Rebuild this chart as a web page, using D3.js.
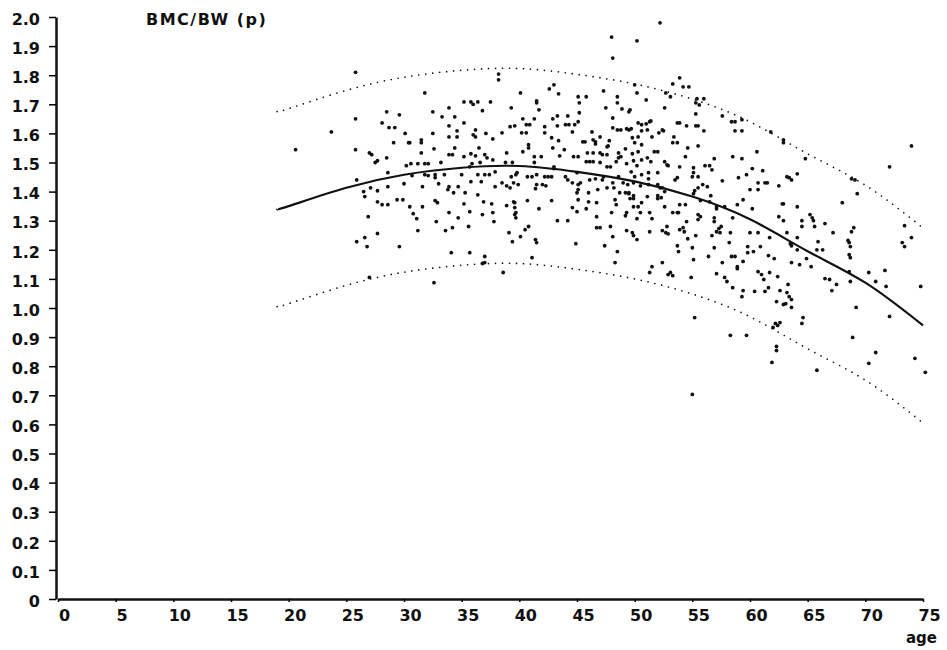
<!DOCTYPE html>
<html>
<head>
<meta charset="utf-8">
<script src="https://cdn.jsdelivr.net/npm/d3@7/dist/d3.min.js"></script>
<style>
  body { margin: 0; background: #fff; }
  svg { display: block; background: #fff; }
  .axis text { font-family: "DejaVu Sans", sans-serif; font-weight: bold; font-size: 16px; fill: #111; }
  .label { font-family: "DejaVu Sans", sans-serif; font-weight: bold; fill: #111; }
</style>
</head>
<body>
<div id="chart"></div>
<script>
// axis ticks
const xTicks = [0, 5, 10, 15, 20, 25, 30, 35, 40, 45, 50, 55, 60, 65, 70, 75];
const yTicks = [0, 0.1, 0.2, 0.3, 0.4, 0.5, 0.6, 0.7, 0.8, 0.9, 1.0, 1.1, 1.2, 1.3, 1.4, 1.5, 1.6, 1.7, 1.8, 1.9, 2.0];

// regression curve and its band
const curveAges = [19, 20, 25, 30, 35, 40, 45, 50, 55, 60, 65, 70, 75];
const fitMid   = [1.34, 1.35, 1.413, 1.458, 1.482, 1.488, 1.468, 1.435, 1.383, 1.305, 1.195, 1.087, 0.94];
const fitUpper = [1.675, 1.685, 1.748, 1.793, 1.817, 1.823, 1.803, 1.77, 1.718, 1.64, 1.53, 1.422, 1.275];
const fitLower = [1.005, 1.015, 1.078, 1.123, 1.147, 1.153, 1.133, 1.10, 1.048, 0.97, 0.86, 0.752, 0.605];

// [age, BMC/BW]
const points = [
  [25.8,1.81],[23.7,1.605],[20.6,1.544],[25.8,1.65],[25.8,1.544],[28.5,1.674],[28.1,1.636],[28.7,1.62],[29.2,1.62],[29.1,1.568],
  [27.0,1.533],[27.2,1.527],[27.5,1.50],[27.7,1.506],[28.5,1.516],[28.6,1.465],[25.9,1.44],[27.1,1.413],[27.7,1.403],[28.6,1.417],
  [26.5,1.40],[26.6,1.383],[27.7,1.365],[28.1,1.355],[28.6,1.355],[29.4,1.372],[26.9,1.314],[27.7,1.256],[26.6,1.242],[25.9,1.228],
  [26.8,1.211],[29.6,1.211],[27.0,1.105],[29.6,1.664],
  [38.2,1.804],[38.2,1.784],[31.8,1.739],[32.5,1.674],[33.9,1.688],[35.2,1.708],[35.8,1.708],[36.0,1.70],[36.4,1.708],[37.5,1.708],
  [36.8,1.678],[33.3,1.657],[34.4,1.657],[35.2,1.636],[30.1,1.60],[32.5,1.60],[33.9,1.626],[33.9,1.588],[34.6,1.609],[34.6,1.588],
  [36.2,1.612],[36.0,1.595],[36.2,1.588],[37.1,1.60],[37.7,1.581],[38.5,1.602],[39.2,1.623],[30.4,1.568],[30.5,1.568],[31.5,1.578],
  [31.5,1.568],[31.5,1.533],[32.6,1.547],[34.4,1.55],[33.9,1.527],[34.2,1.527],[35.2,1.52],[35.8,1.53],[36.2,1.523],[37.0,1.527],
  [37.2,1.516],[36.5,1.55],[37.7,1.509],[38.9,1.533],[30.2,1.489],[30.6,1.496],[31.2,1.496],[31.8,1.496],[32.1,1.496],[33.2,1.50],
  [35.7,1.485],[35.9,1.496],[36.6,1.50],[38.8,1.50],[39.4,1.50],[30.7,1.455],[31.8,1.458],[32.1,1.455],[32.7,1.458],[32.7,1.448],
  [33.5,1.458],[35.0,1.458],[36.4,1.458],[37.0,1.458],[37.4,1.458],[37.9,1.468],[30.0,1.427],[31.6,1.417],[33.0,1.427],[33.9,1.417],
  [33.8,1.407],[34.7,1.417],[34.3,1.396],[35.3,1.396],[35.8,1.434],[36.7,1.434],[36.4,1.389],[37.9,1.417],[38.5,1.43],[38.9,1.42],
  [39.2,1.413],[39.5,1.43],[29.9,1.372],[30.5,1.348],[31.6,1.348],[32.7,1.369],[32.9,1.362],[35.2,1.358],[36.9,1.365],[37.6,1.358],
  [38.9,1.352],[39.5,1.365],[30.8,1.324],[31.1,1.307],[33.9,1.328],[35.7,1.331],[36.8,1.321],[37.7,1.328],[32.8,1.297],[34.7,1.31],
  [37.8,1.297],[39.6,1.321],[31.2,1.266],[33.6,1.266],[34.2,1.276],[35.6,1.28],[39.1,1.259],[39.4,1.228],[34.1,1.19],[35.7,1.19],
  [37.0,1.177],[37.0,1.156],[36.8,1.153],[38.6,1.122],[32.6,1.087],
  [48.0,1.931],[48.1,1.859],[40.1,1.739],[42.6,1.753],[43.0,1.767],[43.4,1.736],[47.3,1.746],[41.5,1.712],[41.5,1.705],[45.1,1.726],
  [45.8,1.726],[48.5,1.726],[48.5,1.705],[41.7,1.681],[45.2,1.705],[45.2,1.671],[47.5,1.688],[48.9,1.684],[49.5,1.674],[39.3,1.688],
  [40.3,1.65],[41.3,1.65],[42.9,1.65],[43.3,1.66],[44.2,1.66],[45.1,1.64],[39.6,1.626],[40.6,1.63],[40.9,1.63],[43.3,1.626],
  [44.0,1.63],[44.3,1.63],[44.8,1.63],[48.1,1.653],[48.1,1.619],[48.5,1.612],[48.8,1.612],[40.2,1.602],[40.6,1.602],[42.2,1.623],
  [42.2,1.602],[44.6,1.605],[46.3,1.605],[49.3,1.616],[49.5,1.612],[42.8,1.585],[43.4,1.575],[46.4,1.578],[47.0,1.588],[47.8,1.575],
  [40.8,1.561],[40.8,1.55],[42.9,1.55],[43.9,1.544],[45.5,1.571],[45.7,1.571],[46.6,1.571],[46.6,1.564],[47.6,1.554],[47.7,1.557],
  [49.2,1.547],[40.3,1.537],[44.7,1.52],[45.1,1.52],[45.9,1.533],[46.4,1.533],[47.0,1.533],[47.2,1.527],[47.6,1.527],[48.6,1.533],
  [48.8,1.52],[48.6,1.516],[41.3,1.52],[41.3,1.50],[41.9,1.52],[43.5,1.523],[45.8,1.503],[46.1,1.503],[46.4,1.503],[47.0,1.50],
  [47.6,1.485],[47.9,1.485],[48.4,1.503],[49.3,1.496],[43.0,1.485],[43.0,1.479],[39.8,1.465],[39.7,1.458],[40.7,1.451],[41.1,1.451],
  [41.5,1.458],[42.2,1.451],[42.5,1.451],[42.8,1.451],[44.0,1.451],[39.3,1.451],[45.0,1.465],[46.1,1.44],[46.6,1.444],[47.2,1.44],
  [47.3,1.451],[48.1,1.43],[48.6,1.451],[39.9,1.424],[41.5,1.424],[42.0,1.424],[42.3,1.42],[44.2,1.44],[44.6,1.43],[45.1,1.424],
  [45.3,1.43],[49.0,1.43],[41.4,1.41],[45.0,1.396],[45.1,1.407],[46.0,1.396],[46.8,1.407],[47.6,1.413],[48.2,1.413],[48.7,1.396],
  [49.2,1.396],[49.5,1.396],[39.6,1.362],[40.7,1.369],[42.8,1.369],[45.1,1.372],[46.0,1.365],[46.7,1.362],[48.3,1.372],[39.6,1.345],
  [39.7,1.328],[39.7,1.31],[41.7,1.341],[44.6,1.345],[45.0,1.331],[45.8,1.341],[46.7,1.314],[48.0,1.328],[48.4,1.355],[49.3,1.328],
  [43.3,1.30],[44.2,1.30],[40.8,1.28],[40.5,1.269],[46.7,1.276],[47.0,1.276],[47.9,1.28],[48.1,1.245],[49.3,1.266],[40.1,1.245],
  [41.4,1.235],[41.5,1.225],[44.9,1.221],[47.4,1.214],[48.5,1.194],[41.1,1.173],[48.3,1.156],
  [53.9,1.791],[53.3,1.77],[54.2,1.76],[54.7,1.76],[50.0,1.767],[50.2,1.739],[52.7,1.739],[53.1,1.726],[51.0,1.715],[55.4,1.719],
  [56.0,1.719],[55.3,1.705],[55.6,1.698],[49.6,1.681],[52.6,1.688],[55.3,1.667],[57.6,1.66],[58.4,1.64],[58.7,1.64],[50.3,1.636],
  [50.6,1.63],[51.0,1.633],[51.3,1.64],[51.4,1.643],[53.7,1.636],[53.9,1.636],[54.5,1.626],[55.3,1.626],[55.5,1.626],[58.7,1.609],
  [59.3,1.609],[56.0,1.609],[49.7,1.616],[50.6,1.609],[51.1,1.612],[52.1,1.602],[52.4,1.612],[52.5,1.609],[51.5,1.588],[53.4,1.588],
  [49.8,1.585],[50.3,1.588],[53.3,1.568],[53.7,1.568],[55.5,1.557],[54.6,1.55],[50.0,1.568],[49.8,1.53],[50.3,1.537],[50.6,1.561],
  [51.7,1.537],[52.0,1.537],[54.4,1.52],[56.9,1.513],[58.5,1.52],[59.3,1.513],[49.9,1.506],[50.6,1.509],[51.1,1.516],[51.4,1.503],
  [50.2,1.489],[52.6,1.503],[52.8,1.492],[52.9,1.489],[53.9,1.485],[56.1,1.489],[56.5,1.489],[56.7,1.475],[55.1,1.482],[55.1,1.465],
  [55.0,1.451],[49.7,1.468],[50.0,1.451],[50.6,1.458],[51.2,1.465],[51.2,1.444],[52.0,1.465],[53.5,1.44],[53.7,1.448],[55.5,1.451],
  [57.6,1.437],[59.0,1.448],[49.4,1.424],[49.9,1.43],[50.5,1.42],[51.2,1.424],[52.0,1.424],[52.2,1.413],[52.4,1.413],[52.6,1.40],
  [55.9,1.424],[56.3,1.417],[55.2,1.403],[55.5,1.413],[49.5,1.393],[49.9,1.386],[51.1,1.383],[52.0,1.386],[52.3,1.379],[52.0,1.376],
  [55.1,1.393],[56.6,1.386],[59.4,1.372],[49.6,1.376],[49.9,1.376],[50.6,1.362],[50.3,1.348],[49.9,1.348],[52.6,1.348],[53.9,1.355],
  [54.4,1.355],[55.7,1.369],[56.5,1.365],[57.1,1.348],[57.1,1.341],[57.8,1.348],[58.9,1.355],[49.2,1.317],[50.2,1.307],[50.5,1.328],
  [51.3,1.328],[51.5,1.307],[53.3,1.328],[53.7,1.328],[53.8,1.328],[54.5,1.297],[55.5,1.321],[55.7,1.314],[55.5,1.304],[56.9,1.31],
  [56.9,1.297],[58.5,1.31],[57.5,1.28],[49.8,1.259],[49.9,1.249],[50.2,1.235],[51.3,1.262],[52.4,1.266],[52.7,1.259],[52.9,1.255],
  [53.9,1.269],[54.2,1.276],[54.3,1.262],[52.8,1.28],[55.3,1.249],[56.7,1.249],[57.1,1.262],[57.3,1.273],[57.4,1.259],[58.3,1.259],
  [54.6,1.238],[58.2,1.225],[53.7,1.214],[53.8,1.194],[55.0,1.207],[56.9,1.207],[58.4,1.177],[58.7,1.177],[56.4,1.177],[55.1,1.166],
  [59.4,1.16],[57.6,1.156],[52.4,1.156],[51.5,1.142],[51.3,1.122],[53.1,1.122],[52.9,1.115],[53.3,1.111],[57.1,1.118],[58.9,1.142],
  [58.9,1.135],[54.9,1.105],[57.8,1.105],[58.0,1.091],[58.5,1.07],[59.4,1.06],[59.3,1.039],[55.2,0.967],[58.3,0.906],
  [59.3,1.647],[61.8,1.605],[62.9,1.578],[62.9,1.568],[60.6,1.537],[64.8,1.513],[60.2,1.479],[59.7,1.458],[61.1,1.472],[63.2,1.451],
  [63.4,1.448],[63.6,1.44],[64.1,1.461],[60.7,1.43],[61.3,1.43],[61.5,1.43],[62.5,1.42],[60.0,1.407],[60.7,1.407],[68.0,1.362],
  [62.8,1.358],[62.9,1.358],[64.1,1.348],[60.2,1.341],[65.2,1.321],[65.4,1.31],[65.5,1.30],[62.5,1.314],[62.9,1.30],[64.5,1.30],
  [64.5,1.28],[65.6,1.28],[66.5,1.29],[67.2,1.259],[60.0,1.259],[60.7,1.259],[63.2,1.259],[61.7,1.242],[68.5,1.232],[59.8,1.211],
  [60.3,1.194],[59.8,1.19],[60.9,1.211],[63.5,1.221],[63.6,1.214],[64.1,1.242],[65.9,1.228],[64.1,1.20],[65.8,1.20],[66.3,1.20],
  [61.6,1.18],[62.1,1.17],[63.6,1.156],[64.3,1.149],[64.9,1.17],[65.3,1.142],[68.6,1.225],[68.6,1.183],[68.6,1.125],[68.7,1.091],
  [60.7,1.125],[61.0,1.115],[61.2,1.098],[61.7,1.122],[62.4,1.108],[66.5,1.101],[66.9,1.098],[67.5,1.081],[67.1,1.06],[63.3,1.081],
  [60.4,1.057],[61.3,1.057],[61.6,1.07],[62.6,1.06],[63.2,1.053],[63.4,1.039],[63.6,1.029],[62.3,1.022],[62.9,1.012],[63.1,1.015],
  [63.6,1.002],[64.6,0.967],[64.5,0.947],[62.2,0.947],[62.4,0.94],[62.0,0.933],[62.6,0.95],[59.7,0.906],[62.3,0.868],[62.3,0.854],
  [61.9,0.813],[65.8,0.786],
  [74.0,1.557],[72.1,1.485],[68.8,1.444],[69.1,1.44],[69.3,1.393],[69.0,1.276],[68.8,1.262],[68.7,1.211],[68.7,1.173],[73.4,1.283],
  [74.0,1.242],[73.2,1.225],[73.4,1.211],[70.3,1.122],[71.7,1.129],[70.9,1.091],[71.8,1.074],[74.8,1.074],[69.2,1.002],[72.1,0.971],
  [68.9,0.899],[70.9,0.847],[70.3,0.81],[74.3,0.827],[75.2,0.779],
  [55.0,0.703],[50.2,1.918],[52.2,1.98]
];

const width = 947, height = 650;

const svg = d3.select('#chart')
  .append('svg')
  .attr('width', width)
  .attr('height', height);

const x = d3.scaleLinear().domain([0, 75]).range([58, 923]);
const y = d3.scaleLinear().domain([0, 2.0]).range([599, 17]);

// Axes
svg.append('g')
  .attr('class', 'axis')
  .attr('transform', `translate(0,${y(0)})`)
  .call(d3.axisBottom(x).tickValues(xTicks).tickSize(3).tickSizeOuter(0).tickPadding(8).tickFormat(d3.format('d')))
  .call(g => g.select('.domain').attr('stroke-width', 2.5).attr('stroke', '#111'))
  .call(g => g.selectAll('.tick line').attr('stroke-width', 1.5))
  .call(g => g.selectAll('.tick text').attr('dx', 6));

svg.append('g')
  .attr('class', 'axis')
  .attr('transform', `translate(${x(0) - 2},0)`)
  .call(d3.axisLeft(y).tickValues(yTicks).tickSize(7).tickSizeOuter(0).tickPadding(9)
    .tickFormat(d => d === 0 ? '0' : d.toFixed(1)))
  .call(g => g.select('.domain').attr('stroke-width', 2.5).attr('stroke', '#111'))
  .call(g => g.selectAll('.tick line').attr('stroke-width', 1.5))
  .call(g => g.selectAll('.tick text').attr('dy', '0.45em'));

// Labels
svg.append('text')
  .attr('class', 'label')
  .attr('x', 146).attr('y', 25)
  .style('font-size', '16px')
  .style('letter-spacing', '1.5px')
  .text('BMC/BW (p)');

svg.append('text')
  .attr('class', 'label')
  .attr('x', 937).attr('y', 643)
  .attr('text-anchor', 'end')
  .style('font-size', '15px')
  .text('age');

// Regression curve and band
const line = d3.line()
  .x(d => x(d[0]))
  .y(d => y(d[1]))
  .curve(d3.curveNatural);

const zip = vals => curveAges.map((a, i) => [a, vals[i]]);

[fitUpper, fitLower].forEach(vals => {
  svg.append('path')
    .datum(zip(vals))
    .attr('d', line)
    .attr('fill', 'none')
    .attr('stroke', '#111')
    .attr('stroke-width', 1.7)
    .attr('stroke-linecap', 'round')
    .attr('stroke-dasharray', '0 7');
});

svg.append('path')
  .datum(zip(fitMid))
  .attr('d', line)
  .attr('fill', 'none')
  .attr('stroke', '#111')
  .attr('stroke-width', 2.2);

// Scatter
svg.append('g')
  .selectAll('circle')
  .data(points)
  .join('circle')
  .attr('cx', d => x(d[0]))
  .attr('cy', d => y(d[1]))
  .attr('r', 1.9)
  .attr('fill', '#111');
</script>
</body>
</html>
